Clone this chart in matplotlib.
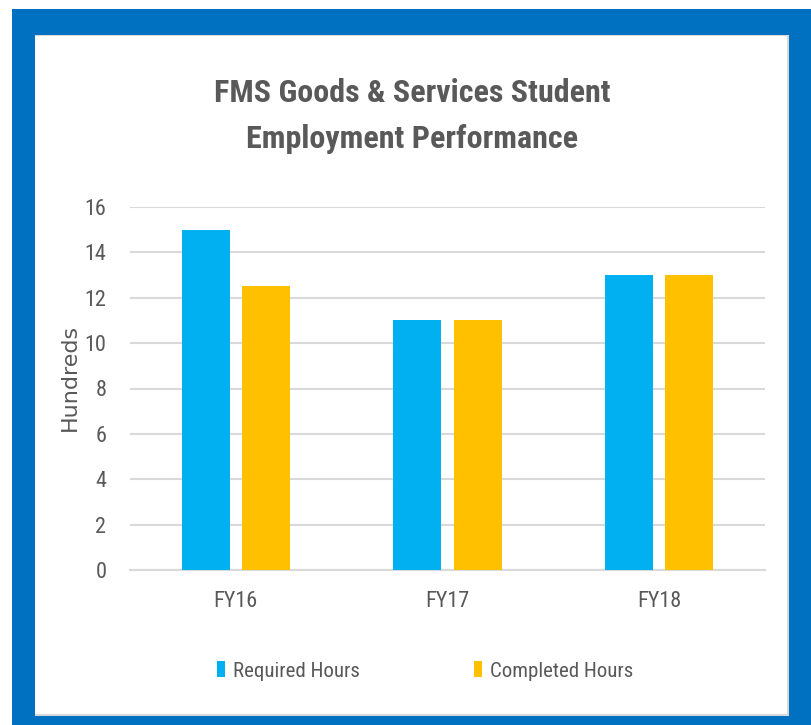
import matplotlib
matplotlib.use("Agg")
import matplotlib.pyplot as plt
from matplotlib.patches import Rectangle, Patch
from matplotlib import font_manager
import numpy as np

categories = ["FY16", "FY17", "FY18"]
required = [15, 11, 13]
completed = [12.5, 11, 13]
series_names = ["Required Hours", "Completed Hours"]
yticks = [0, 2, 4, 6, 8, 10, 12, 14, 16]

BLUE_FRAME = "#0070C0"
C_REQ = "#00B0F0"
C_COMP = "#FFC000"
TXT = "#595959"

available = {f.name for f in font_manager.fontManager.ttflist}
narrow_pick = None
for cand in ["Liberation Sans Narrow", "Roboto Condensed", "Open Sans Condensed",
             "Noto Sans Condensed", "DejaVu Sans Condensed", "Lato"]:
    if cand in available:
        narrow_pick = cand
        break
NARROW = [narrow_pick or "Lato", "DejaVu Sans"]

W, H = 812, 725
fig = plt.figure(figsize=(W / 100, H / 100), dpi=100)
fig.patch.set_facecolor("white")

def fr(x0, y0, x1, y1, **kw):
    fig.patches.append(Rectangle((x0 / W, 1 - y1 / H), (x1 - x0) / W, (y1 - y0) / H,
                                 transform=fig.transFigure, **kw))

fr(12, 9, 812, 725, facecolor=BLUE_FRAME, edgecolor="none", zorder=-3)
fr(35, 35, 789, 716, facecolor="#d9d9d9", edgecolor="none", zorder=-2)
fr(35, 36, 787, 714, facecolor="white", edgecolor="none", zorder=-1)

ax = fig.add_axes([130 / W, 1 - 570 / H, 635 / W, 363 / H])
ax.set_zorder(2)
ax.set_facecolor("none")
x = np.arange(len(categories))
bw = 0.227
off = 0.142
ax.bar(x - off, required, bw, color=C_REQ, zorder=3, label=series_names[0])
ax.bar(x + off, completed, bw, color=C_COMP, zorder=3, label=series_names[1])

ax.set_xlim(-0.5, 2.5)
ax.set_ylim(0, 16)
ax.set_yticks(yticks)
ax.set_yticklabels([str(t) for t in yticks], fontsize=16, color=TXT, family=NARROW)
ax.set_xticks(x)
ax.set_xticklabels(categories, fontsize=16, color=TXT, family=NARROW)
ax.tick_params(axis="both", length=0)
ax.tick_params(axis="y", pad=17)
ax.tick_params(axis="x", pad=15)
ax.grid(axis="y", color="#d9d9d9", linewidth=1.5, zorder=0)
for s in ["top", "right", "left"]:
    ax.spines[s].set_visible(False)
ax.spines["bottom"].set_color("#d9d9d9")
ax.spines["bottom"].set_linewidth(1.5)

fig.text(70 / W, 1 - 377 / H, "Hundreds", rotation=90, ha="center", va="center",
         fontsize=16, color=TXT, family="DejaVu Sans", zorder=3)

fig.text(412 / W, 1 - 116 / H, "FMS Goods & Services Student\nEmployment Performance",
         ha="center", va="center", fontsize=23, fontweight="bold", color=TXT,
         family=NARROW, linespacing=1.7, zorder=3)

handles = [Patch(facecolor=C_REQ), Patch(facecolor=C_COMP)]
leg = fig.legend(handles, series_names, loc="center", bbox_to_anchor=(425 / W, 1 - 671 / H),
                 ncol=2, frameon=False, handlelength=0.4, handleheight=0.8,
                 handletextpad=0.35, columnspacing=5.5, labelcolor=TXT,
                 prop={"family": NARROW, "size": 15})
leg.set_zorder(3)

fig.savefig("out.png", dpi=100, facecolor="white")
